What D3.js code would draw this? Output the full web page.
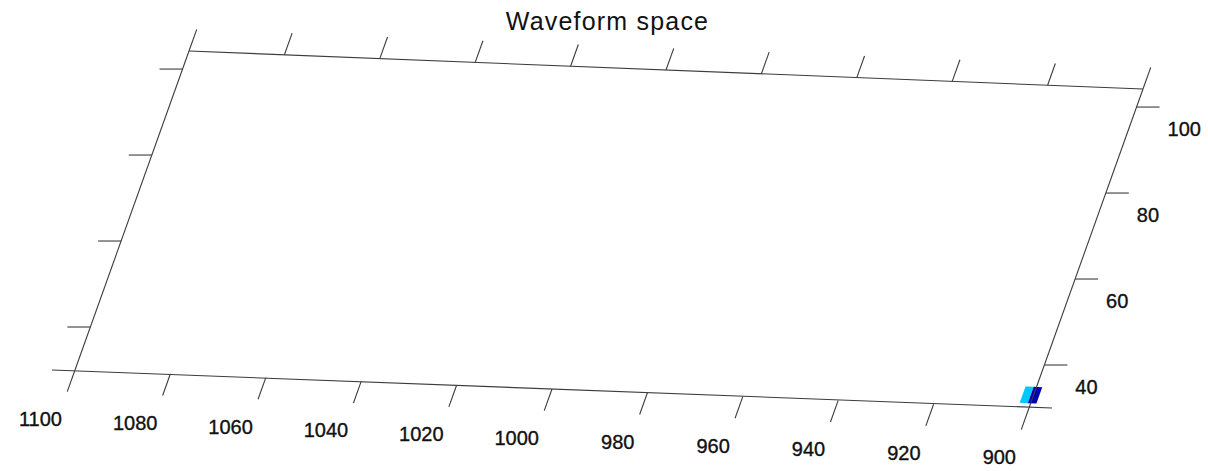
<!DOCTYPE html>
<html lang="en">
<head>
<meta charset="UTF-8">
<title>Waveform space</title>
<style>
  body { margin: 0; background: #fff; }
  text { font-family: "Liberation Sans", Arial, sans-serif; fill: #111; }
  text.lbl { stroke: #111; stroke-width: 0.35px; }
</style>
</head>
<body>
<svg width="1208" height="471"></svg>
<script src="https://d3js.org/d3.v7.min.js"></script>
<script>
// data
var xTicks = [1100, 1080, 1060, 1040, 1020, 1000, 980, 960, 940, 920, 900];
var yTicks = [40, 60, 80, 100];
var xDomain = [1100, 900];
var yDomain = [30, 104.2];
// waveform cells (x range, y range, value)
var cellX0 = [902.3, 900.6];
var cellX1 = [900.6, 898.8];
var cellY0 = [31.1, 31.1];
var cellY1 = [34.9, 34.9];
var cellValue = [0.32, 0.036];

var svg = d3.select("svg");

// projected plane: origin corner and the two edge vectors
var origin = [75, 370], ex = [954, 38], ey = [114, -319];
var sx = d3.scaleLinear().domain(xDomain).range([0, 1]);
var sy = d3.scaleLinear().domain(yDomain).range([0, 1]);
function proj(x, y) {
  var u = sx(x), v = sy(y);
  return [origin[0] + u * ex[0] + v * ey[0], origin[1] + u * ex[1] + v * ey[1]];
}
var jet = d3.scaleLinear()
  .domain([0, 0.125, 0.375, 0.625, 0.875, 1])
  .range(["#00008f", "#0000ff", "#00ffff", "#ffff00", "#ff0000", "#800000"]);

var line = d3.line();
var g = svg.append("g");
var stroke = "#3c3c3c";

// cells
g.selectAll("path.cell").data(cellValue).enter().append("path")
  .attr("class", "cell")
  .attr("d", function (d, i) {
    return line([proj(cellX0[i], cellY0[i]), proj(cellX1[i], cellY0[i]),
                 proj(cellX1[i], cellY1[i]), proj(cellX0[i], cellY1[i])]) + "Z";
  })
  .attr("fill", function (d) { return jet(d); });

// box edges
var x0 = xDomain[0], x1 = xDomain[1], y0 = yDomain[0], y1 = yDomain[1];
var tl = 23; // tick length
var lenY = Math.hypot(ey[0], ey[1]);
var uy = [ey[0] / lenY, ey[1] / lenY];

function seg(a, b) {
  g.append("path").attr("d", line([a, b]))
    .attr("stroke", stroke).attr("stroke-width", 1.1).attr("fill", "none");
}
var pBL = proj(x0, y0), pBR = proj(x1, y0), pTR = proj(x1, y1), pTL = proj(x0, y1);
seg([pBL[0] - tl, pBL[1]], [pBR[0] + tl, pBR[1]]);
seg(pBR, pTR);
seg(pTR, pTL);
seg(pTL, pBL);

// x ticks (front and back) and labels
xTicks.forEach(function (t) {
  var a = proj(t, y0), b = proj(t, y1);
  seg(a, [a[0] - uy[0] * tl, a[1] - uy[1] * tl]);
  seg(b, [b[0] + uy[0] * tl, b[1] + uy[1] * tl]);
  g.append("text").attr("class", "lbl").attr("x", a[0] - 13).attr("y", a[1] + 49)
    .attr("text-anchor", "end").attr("dominant-baseline", "central")
    .attr("font-size", 20).text(t);
});

// y ticks (left and right) and labels
yTicks.forEach(function (t) {
  var a = proj(x0, t), b = proj(x1, t);
  seg(a, [a[0] - tl, a[1]]);
  seg(b, [b[0] + tl, b[1]]);
  g.append("text").attr("class", "lbl").attr("x", b[0] + 31).attr("y", b[1] + 21.5)
    .attr("text-anchor", "start").attr("dominant-baseline", "central")
    .attr("font-size", 20).text(t);
});

svg.append("text").attr("x", 607.5).attr("y", 30)
  .attr("text-anchor", "middle").attr("font-size", 25)
  .attr("letter-spacing", 1.2)
  .text("Waveform space");
</script>
</body>
</html>
